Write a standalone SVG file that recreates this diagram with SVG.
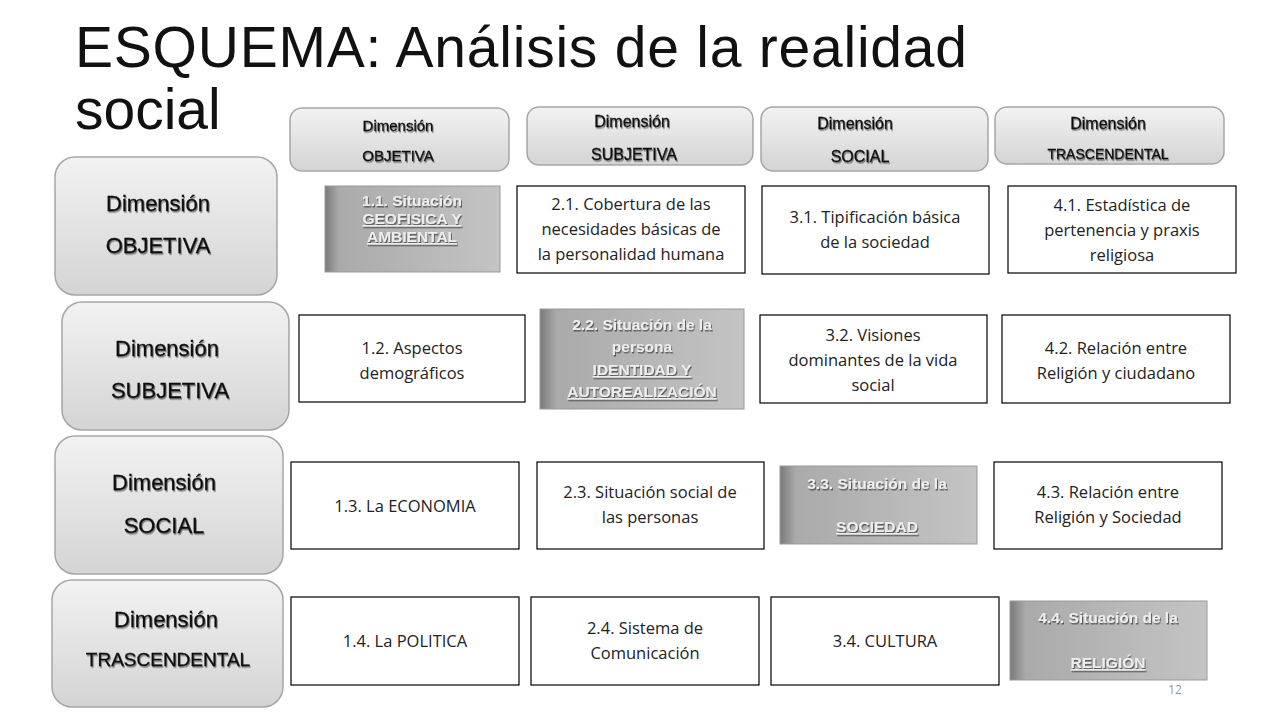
<svg xmlns="http://www.w3.org/2000/svg" width="1280" height="720" viewBox="0 0 1280 720">
<defs>
<linearGradient id="g" x1="0" y1="0" x2="0" y2="1"><stop offset="0" stop-color="#f2f2f2"/><stop offset="1" stop-color="#d4d4d4"/></linearGradient>
<linearGradient id="h" x1="0" y1="0" x2="1" y2="0"><stop offset="0" stop-color="#7a7a7a"/><stop offset="0.08" stop-color="#aaaaaa"/><stop offset="1" stop-color="#c4c4c4"/></linearGradient>
<filter id="ts" x="-5%" y="-5%" width="110%" height="130%"><feDropShadow dx="1" dy="1.5" stdDeviation="0.6" flood-color="#444" flood-opacity="0.8"/></filter>
<filter id="ds" x="-5%" y="-5%" width="110%" height="130%"><feDropShadow dx="1" dy="1.5" stdDeviation="0.7" flood-color="#000" flood-opacity="0.45"/></filter>
</defs>
<style>
.dim{fill:url(#g);stroke:#a6a6a6;stroke-width:1.5}
.box{fill:#fff;stroke:#000;stroke-width:1.2}
.gb{fill:url(#h);stroke:#999;stroke-width:1}
.d{font-family:"Liberation Sans",Arial,sans-serif;fill:#111;text-anchor:middle;filter:url(#ds);stroke:#111;stroke-width:0.3}
.t{font-family:"Open Sans","Noto Sans",sans-serif;font-size:16.5px;fill:#222;text-anchor:middle}
.w{font-family:"Liberation Sans",Arial,sans-serif;font-weight:bold;font-size:15.5px;fill:#eee;text-anchor:middle;filter:url(#ts)}
</style>
<rect width="1280" height="720" fill="#fff"/>
<text x="75" y="67" font-family="Liberation Sans,Arial,sans-serif" font-size="57" fill="#111" textLength="892">ESQUEMA: Análisis de la realidad</text>
<text x="75" y="129" font-family="Liberation Sans,Arial,sans-serif" font-size="57" fill="#111">social</text>

<g id="left-objetiva"><rect class="dim" x="55" y="157" width="222" height="138" rx="20"/><text class="d" font-size="22" x="158" y="211">Dimensión</text><text class="d" font-size="22" x="158" y="253">OBJETIVA</text></g>
<g id="left-subjetiva"><rect class="dim" x="62" y="302" width="227" height="128" rx="20"/><text class="d" font-size="22" x="167" y="356">Dimensión</text><text class="d" font-size="22" x="170" y="398">SUBJETIVA</text></g>
<g id="left-social"><rect class="dim" x="55" y="436" width="228" height="138" rx="20"/><text class="d" font-size="22" x="164" y="490">Dimensión</text><text class="d" font-size="22" x="164" y="533">SOCIAL</text></g>
<g id="left-trascendental"><rect class="dim" x="52" y="580" width="231" height="127" rx="20"/><text class="d" font-size="22" x="166" y="627">Dimensión</text><text class="d" font-size="19" x="168" y="666">TRASCENDENTAL</text></g>

<g id="top-objetiva"><rect class="dim" x="290" y="108" width="219" height="63" rx="12"/><text class="d" font-size="15" x="398" y="131">Dimensión</text><text class="d" font-size="15" x="398" y="161">OBJETIVA</text></g>
<g id="top-subjetiva"><rect class="dim" x="527" y="107" width="226" height="58" rx="12"/><text class="d" font-size="16" x="632" y="127">Dimensión</text><text class="d" font-size="16" x="634" y="160">SUBJETIVA</text></g>
<g id="top-social"><rect class="dim" x="761" y="107" width="227" height="64" rx="12"/><text class="d" font-size="16" x="855" y="129">Dimensión</text><text class="d" font-size="16" x="860" y="162">SOCIAL</text></g>
<g id="top-trascendental"><rect class="dim" x="995" y="107" width="229" height="57" rx="12"/><text class="d" font-size="16" x="1108" y="129">Dimensión</text><text class="d" font-size="14" x="1108" y="159">TRASCENDENTAL</text></g>

<g id="n11"><rect class="gb" x="325" y="186" width="175" height="86"/><text class="w" x="412" y="206">1.1. Situación</text><text class="w" x="412" y="224" text-decoration="underline">GEOFISICA Y</text><text class="w" x="412" y="242" text-decoration="underline">AMBIENTAL</text></g>
<g id="n21"><rect class="box" x="517" y="186" width="228" height="87"/><text class="t" x="631" y="210">2.1. Cobertura de las</text><text class="t" x="631" y="235">necesidades básicas de</text><text class="t" x="631" y="260">la personalidad humana</text></g>
<g id="n31"><rect class="box" x="762" y="186" width="227" height="88"/><text class="t" x="875" y="223">3.1. Tipificación básica</text><text class="t" x="875" y="248">de la sociedad</text></g>
<g id="n41"><rect class="box" x="1008" y="186" width="228" height="87"/><text class="t" x="1122" y="211">4.1. Estadística de</text><text class="t" x="1122" y="236">pertenencia y praxis</text><text class="t" x="1122" y="261">religiosa</text></g>

<g id="n12"><rect class="box" x="299" y="315" width="226" height="87"/><text class="t" x="412" y="354">1.2. Aspectos</text><text class="t" x="412" y="379">demográficos</text></g>
<g id="n22"><rect class="gb" x="540" y="309" width="204" height="100"/><text class="w" x="642" y="330">2.2. Situación de la</text><text class="w" x="642" y="352">persona</text><text class="w" x="642" y="375" text-decoration="underline">IDENTIDAD Y</text><text class="w" x="642" y="397" text-decoration="underline">AUTOREALIZACIÓN</text></g>
<g id="n32"><rect class="box" x="760" y="315" width="227" height="88"/><text class="t" x="873" y="341">3.2. Visiones</text><text class="t" x="873" y="366">dominantes de la vida</text><text class="t" x="873" y="391">social</text></g>
<g id="n42"><rect class="box" x="1002" y="315" width="228" height="88"/><text class="t" x="1116" y="354">4.2. Relación entre</text><text class="t" x="1116" y="379">Religión y ciudadano</text></g>

<g id="n13"><rect class="box" x="291" y="462" width="228" height="87"/><text class="t" x="405" y="512">1.3. La ECONOMIA</text></g>
<g id="n23"><rect class="box" x="537" y="462" width="227" height="87"/><text class="t" x="650" y="498">2.3. Situación social de</text><text class="t" x="650" y="523">las personas</text></g>
<g id="n33"><rect class="gb" x="780" y="466" width="197" height="78"/><text class="w" x="877" y="489">3.3. Situación de la</text><text class="w" x="877" y="532" text-decoration="underline">SOCIEDAD</text></g>
<g id="n43"><rect class="box" x="994" y="462" width="228" height="87"/><text class="t" x="1108" y="498">4.3. Relación entre</text><text class="t" x="1108" y="523">Religión y Sociedad</text></g>

<g id="n14"><rect class="box" x="291" y="597" width="228" height="88"/><text class="t" x="405" y="647">1.4. La POLITICA</text></g>
<g id="n24"><rect class="box" x="531" y="597" width="228" height="88"/><text class="t" x="645" y="634">2.4. Sistema de</text><text class="t" x="645" y="659">Comunicación</text></g>
<g id="n34"><rect class="box" x="771" y="597" width="228" height="88"/><text class="t" x="885" y="647">3.4. CULTURA</text></g>
<g id="n44"><rect class="gb" x="1010" y="601" width="197" height="79"/><text class="w" x="1108" y="623">4.4. Situación de la</text><text class="w" x="1108" y="668" text-decoration="underline">RELIGIÓN</text></g>
<g id="connectors"/>
<text x="1175" y="694" font-family="Open Sans,sans-serif" font-size="12" fill="#999" text-anchor="middle">12</text>
</svg>
